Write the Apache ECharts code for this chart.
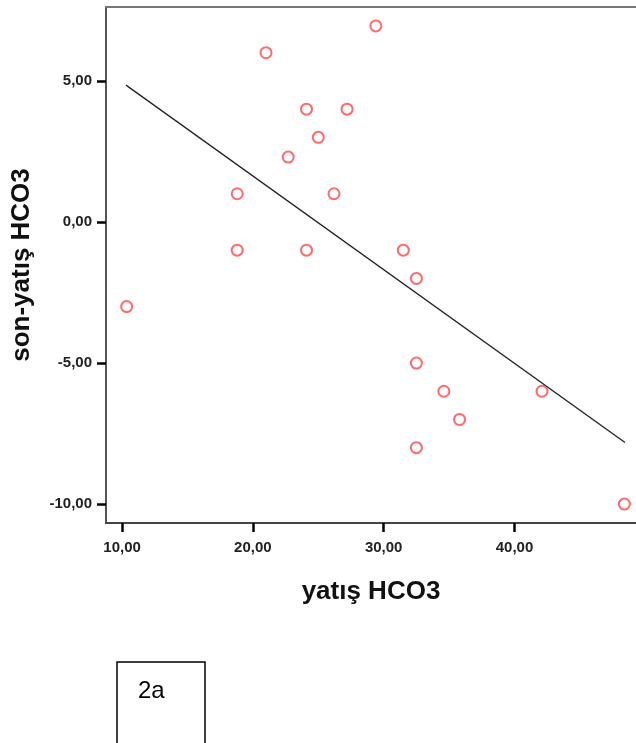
<!DOCTYPE html>
<html>
<head>
<meta charset="utf-8">
<script src="https://cdn.jsdelivr.net/npm/echarts@6/dist/echarts.min.js"></script>
<style>
  html, body { margin: 0; padding: 0; background: #ffffff; }
  #chart { width: 636px; height: 743px; }
</style>
</head>
<body>
<div id="chart"></div>
<script>
// Admission HCO3 (x) and change in HCO3, final minus admission (y)
const admissionHCO3 = [10.35, 18.8, 18.8, 21.0, 22.7, 24.1, 24.1, 25.0, 26.2, 27.2, 29.4, 31.5, 32.5, 32.5, 32.5, 34.6, 35.8, 42.1, 48.4];
const changeHCO3    = [-3.0,  1.0, -1.0,  6.0,  2.3,  4.0, -1.0,  3.0,  1.0,  4.0, 6.95, -1.0, -2.0, -5.0, -8.0, -6.0, -7.0, -6.0, -10.0];

// Linear fit line endpoints
const fitX = [10.3, 48.45];
const fitY = [4.85, -7.82];

// Tick values
const xTicks = [10, 20, 30, 40];
const yTicks = [-10, -5, 0, 5];

const points = admissionHCO3.map((x, i) => [x, changeHCO3[i]]);
const fitLine = fitX.map((x, i) => [x, fitY[i]]);

const fmt = v => Number(v).toFixed(2).replace('.', ',');

const X_MIN = 8.77, X_MAX = 49.29;

const chart = echarts.init(document.getElementById('chart'), null, { renderer: 'canvas' });

chart.setOption({
  backgroundColor: '#ffffff',
  animation: false,
  grid: { left: 106, top: 7, right: 0, bottom: 220, show: false },
  xAxis: [
    {
      type: 'value',
      min: X_MIN, max: X_MAX,
      name: 'yatış HCO3',
      nameLocation: 'middle',
      nameGap: 56,
      nameTextStyle: { fontFamily: 'Liberation Sans', fontWeight: 'bold', fontSize: 26, color: '#111' },
      axisLine: { show: true, onZero: false, lineStyle: { color: '#444', width: 2 } },
      axisTick: { show: true, customValues: xTicks, length: 9, lineStyle: { color: '#000', width: 2.5 } },
      axisLabel: {
        customValues: xTicks, formatter: fmt, margin: 17,
        fontFamily: 'Liberation Sans', fontWeight: 'bold', fontSize: 15, color: '#222'
      },
      splitLine: { show: false }
    },
    {
      // top frame line of the plot area
      type: 'value',
      position: 'top',
      min: X_MIN, max: X_MAX,
      axisLine: { show: true, onZero: false, lineStyle: { color: '#777', width: 2 } },
      axisTick: { show: false },
      axisLabel: { show: false },
      splitLine: { show: false }
    }
  ],
  yAxis: {
    type: 'value',
    min: -10.67, max: 7.62,
    name: 'son-yatış HCO3',
    nameLocation: 'middle',
    nameGap: 71,
    nameTextStyle: { fontFamily: 'Liberation Sans', fontWeight: 'bold', fontSize: 26, color: '#111' },
    axisLine: { show: true, onZero: false, lineStyle: { color: '#555', width: 2 } },
    axisTick: { show: true, customValues: yTicks, length: 9, lineStyle: { color: '#000', width: 2.5 } },
    axisLabel: {
      customValues: yTicks, formatter: fmt, margin: 14,
      fontFamily: 'Liberation Sans', fontWeight: 'bold', fontSize: 15, color: '#222'
    },
    splitLine: { show: false }
  },
  series: [
    {
      type: 'line',
      data: fitLine,
      symbol: 'none',
      lineStyle: { color: '#222', width: 1.3 },
      z: 2
    },
    {
      type: 'scatter',
      data: points,
      symbol: 'emptyCircle',
      symbolSize: 11,
      itemStyle: { color: '#ff4545', borderWidth: 1.8 },
      z: 3
    }
  ],
  graphic: [
    {
      type: 'rect',
      shape: { x: 117, y: 662, width: 88, height: 100 },
      style: { fill: '#ffffff', stroke: '#000000', lineWidth: 1.5 }
    },
    {
      type: 'text',
      x: 138, y: 691,
      style: {
        text: '2a', fill: '#000000',
        font: '24px "Liberation Sans"',
        verticalAlign: 'middle', align: 'left'
      }
    }
  ]
});
</script>
</body>
</html>
